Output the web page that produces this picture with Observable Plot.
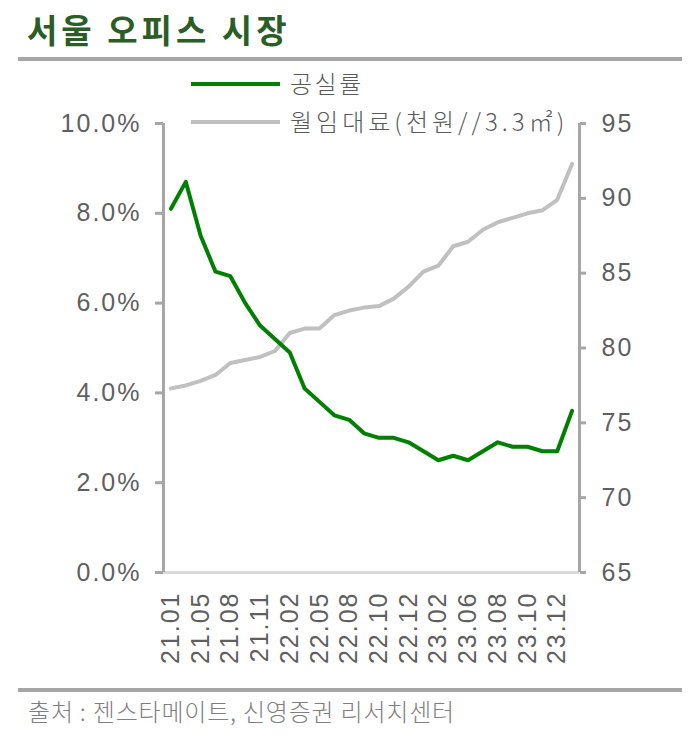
<!DOCTYPE html>
<html><head><meta charset="utf-8">
<script src="https://cdn.jsdelivr.net/npm/d3@7"></script>
<script src="https://cdn.jsdelivr.net/npm/@observablehq/plot@0.6"></script>
<style>
body{margin:0;background:#fff;}
#wrap{position:relative;width:689px;height:755px;overflow:hidden;font-family:"Noto Sans CJK KR",sans-serif;}
#title{position:absolute;left:27px;top:13px;font-size:33px;line-height:33px;font-weight:bold;color:#2b5d26;letter-spacing:4px;white-space:nowrap;}
.rule{position:absolute;left:18px;width:664px;height:4px;background:#a6a6a6;}
#chart{position:absolute;left:0;top:62px;}
.legline{position:absolute;left:191px;width:89px;height:4px;}
.legtext{position:absolute;left:290px;font-size:24px;line-height:24px;color:#595959;letter-spacing:2.5px;white-space:nowrap;font-weight:300;}
#source{position:absolute;left:28px;top:699px;font-size:24px;line-height:24px;color:#7f7f7f;white-space:nowrap;letter-spacing:0.8px;font-weight:300;}
</style></head>
<body>
<div id="wrap">
  <div id="title">서울 오피스 시장</div>
  <div class="rule" style="top:57px"></div>
  <div id="chart"></div>
  <div class="legline" style="top:82px;background:#008000"></div>
  <div class="legtext" style="top:71px">공실률</div>
  <div class="legline" style="top:120px;background:#bfbfbf"></div>
  <div class="legtext" style="top:109px;letter-spacing:4px">월임대료(천원//3.3㎡)</div>
  <div class="rule" style="top:688px"></div>
  <div id="source">출처 : 젠스타메이트, 신영증권 리서치센터</div>
</div>
<script>
const months = ["21.01","21.03","21.05","21.07","21.08","21.10","21.11","21.12","22.02","22.04","22.05","22.07","22.08","22.09","22.10","22.11","22.12","23.01","23.02","23.04","23.06","23.07","23.08","23.09","23.10","23.11","23.12","24.01"];
const vacancy = [8.1,8.7,7.5,6.7,6.6,6.0,5.5,5.2,4.9,4.1,3.8,3.5,3.4,3.1,3.0,3.0,2.9,2.7,2.5,2.6,2.5,2.7,2.9,2.8,2.8,2.7,2.7,3.6];
const rent = [77.3,77.5,77.8,78.2,79.0,79.2,79.4,79.8,81.0,81.3,81.3,82.2,82.5,82.7,82.8,83.3,84.1,85.1,85.5,86.8,87.1,87.9,88.4,88.7,89.0,89.2,89.9,92.3];
const xTickLabels = ["21.01","21.05","21.08","21.11","22.02","22.05","22.08","22.10","22.12","23.02","23.06","23.08","23.10","23.12"];
const leftTicks = [0,2,4,6,8,10];
const rightTicks = [65,70,75,80,85,90,95];

const rentMin = 65, rentMax = 95, vacMax = 10;
const toY = r => (r - rentMin) / (rentMax - rentMin) * vacMax;
const fromY = y => Math.round(y / vacMax * (rentMax - rentMin) + rentMin);

const data = months.map((m, i) => ({i, m, vacancy: vacancy[i], rent: rent[i]}));
const xTickIdx = xTickLabels.map(l => months.indexOf(l));

const chart = Plot.plot({
  width: 689, height: 624,
  marginTop: 61, marginBottom: 114, marginLeft: 163, marginRight: 110,
  style: {fontFamily: "'Liberation Sans', Arial, sans-serif", fontSize: "25px", color: "#595959", background: "transparent", letterSpacing: "2px", overflow: "visible"},
  x: {type: "linear", domain: [-0.5, months.length - 0.5], axis: null},
  y: {domain: [0, vacMax], axis: null},
  marks: [
    Plot.ruleY([0], {stroke: "#d9d9d9", strokeWidth: 3}),
    Plot.ruleX([-0.5, months.length - 0.5], {y1: 0, y2: vacMax, stroke: "#a6a6a6", strokeWidth: 3}),
    Plot.axisY(leftTicks, {anchor: "left", tickSize: 8, tickPadding: 14, stroke: "#a6a6a6", strokeWidth: 3, fill: "#5f5f5f", tickFormat: d => d.toFixed(1) + "%", label: null}),
    Plot.axisY(rightTicks.map(toY), {anchor: "right", tickSize: 6, tickPadding: 16, stroke: "#a6a6a6", strokeWidth: 3, fill: "#5f5f5f", tickFormat: d => String(fromY(d)), label: null}),
    Plot.axisX(xTickIdx, {anchor: "bottom", tickSize: 0, tickPadding: 19, tickRotate: -90, fill: "#5f5f5f", tickFormat: d => months[d], label: null}),
    Plot.line(data, {x: "i", y: d => toY(d.rent), stroke: "#c0c0c0", strokeWidth: 4}),
    Plot.line(data, {x: "i", y: "vacancy", stroke: "#008000", strokeWidth: 4})
  ]
});
document.getElementById("chart").appendChild(chart);
</script>
</body></html>
